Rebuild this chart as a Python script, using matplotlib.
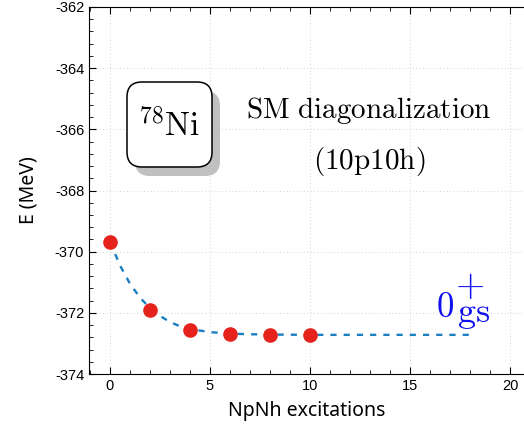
import matplotlib
matplotlib.use('Agg')
import matplotlib.pyplot as plt
from matplotlib.patches import FancyBboxPatch
from matplotlib.ticker import MultipleLocator

plt.rc('mathtext', fontset='cm')
plt.rc('font', family='Liberation Sans', size=10)

# data: NpNh truncation vs ground-state energy
npnh = [0, 2, 4, 6, 8, 10]
energy = [-369.68, -371.92, -372.55, -372.68, -372.71, -372.72]

# dashed fit curve
fit_x = [0, 0.5, 1, 1.5, 2, 2.5, 3, 3.5, 4, 5, 6, 7, 8, 10, 12, 14, 16, 18]
fit_y = [-369.68, -370.45, -371.05, -371.5, -371.85, -372.1, -372.3, -372.44,
         -372.53, -372.63, -372.68, -372.7, -372.71, -372.72, -372.72, -372.72,
         -372.72, -372.72]

fig = plt.figure(figsize=(5.24, 4.37), dpi=100)
ax = fig.add_axes([89/524, 1 - 374/437, 1 - 89/524, (374 - 7)/437])

ax.plot(fit_x, fit_y, '--', color='#1a7fc0', lw=1.7, dashes=(2.6, 3), zorder=2)
ax.plot(npnh, energy, 'o', color='#e5221c', ms=9.5, zorder=3)

ax.set_xlim(-1.05, 20.7)
ax.set_ylim(-374, -362)
ax.xaxis.set_major_locator(MultipleLocator(5))
ax.xaxis.set_minor_locator(MultipleLocator(1))
ax.yaxis.set_minor_locator(MultipleLocator(0.4))
ax.tick_params(which='both', direction='in', top=True, right=False, labelsize=10.5)
ax.tick_params(which='major', length=5)
ax.tick_params(which='minor', length=3)
ax.set_yticks(range(-374, -361, 2))
ax.set_yticklabels([str(v) for v in range(-374, -361, 2)])
ax.grid(True, which='major', color='#d4d4d4', lw=0.7, dashes=(1, 2.5))
ax.spines['right'].set_visible(False)

ax.set_xlabel('NpNh excitations', family='Noto Sans', fontsize=14, labelpad=6)
ax.set_ylabel('E (MeV)', family='Noto Sans', fontsize=14, labelpad=12)

# rounded box with shadow, placed in pixel-ish inches
def inch(x, y):
    return x / 100, (437 - y) / 100

shadow = FancyBboxPatch(inch(135, 176), 0.85, 0.85, boxstyle='round,pad=0,rounding_size=0.15',
                        transform=fig.dpi_scale_trans, facecolor='#c0c0c0', edgecolor='none', zorder=4)
box = FancyBboxPatch(inch(127, 167), 0.85, 0.85, boxstyle='round,pad=0,rounding_size=0.15',
                     transform=fig.dpi_scale_trans, facecolor='white', edgecolor='black', lw=1.1, zorder=5)
fig.patches.extend([shadow, box])

def px(x, y):
    return x / 524, 1 - y / 437

fig.text(*px(169, 126), r'$^{78}\mathrm{Ni}$', fontsize=24, ha='center', va='center', zorder=6)
fig.text(*px(369, 111), r'$\mathrm{SM\ diagonalization}$', fontsize=21, ha='center', va='center')
fig.text(*px(369, 161), r'$\mathrm{(10p10h)}$', fontsize=21, ha='center', va='center')

# 0+_gs label, pieces drawn at the same size as in the reference
blue = '#1010ee'
fig.text(*px(436, 317), r'$0$', fontsize=25, color=blue, ha='left', va='baseline')
fig.text(*px(470, 296), r'$+$', fontsize=27, color=blue, ha='center', va='baseline')
fig.text(*px(457, 322), r'$\mathrm{gs}$', fontsize=26, color=blue, ha='left', va='baseline')

fig.savefig('out.png', dpi=100)
